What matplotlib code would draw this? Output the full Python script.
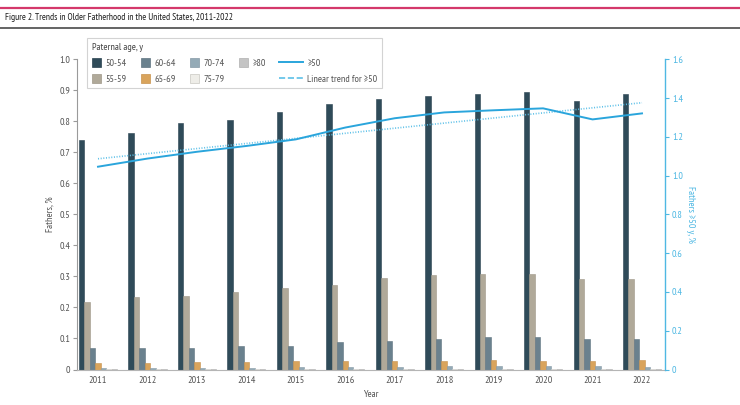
import matplotlib
matplotlib.use("Agg")
import matplotlib.pyplot as plt
import numpy as np
from matplotlib import font_manager
from matplotlib.patches import Patch, Rectangle
from matplotlib.lines import Line2D
from matplotlib.legend_handler import HandlerBase, HandlerPatch

# ---------------- data ----------------
years = [2011, 2012, 2013, 2014, 2015, 2016, 2017, 2018, 2019, 2020, 2021, 2022]
age_groups = ["50-54", "55-59", "60-64", "65-69", "70-74", "75-79", "\u226580"]
v50_54 = [0.740, 0.763, 0.794, 0.804, 0.831, 0.855, 0.871, 0.882, 0.889, 0.894, 0.866, 0.887]
v55_59 = [0.218, 0.233, 0.238, 0.251, 0.262, 0.274, 0.295, 0.305, 0.307, 0.308, 0.292, 0.292]
v60_64 = [0.068, 0.068, 0.070, 0.075, 0.077, 0.088, 0.091, 0.099, 0.104, 0.104, 0.097, 0.099]
v65_69 = [0.020, 0.021, 0.024, 0.024, 0.026, 0.027, 0.027, 0.029, 0.031, 0.029, 0.029, 0.032]
v70_74 = [0.005, 0.005, 0.006, 0.006, 0.007, 0.008, 0.009, 0.011, 0.011, 0.011, 0.010, 0.009]
v75_79 = [0.002, 0.002, 0.002, 0.002, 0.002, 0.002, 0.003, 0.003, 0.003, 0.003, 0.003, 0.003]
v80_up = [0.001, 0.001, 0.001, 0.001, 0.001, 0.001, 0.001, 0.001, 0.001, 0.001, 0.001, 0.001]
ge50 = [1.046, 1.088, 1.123, 1.153, 1.187, 1.248, 1.296, 1.326, 1.337, 1.347, 1.290, 1.321]
trend_years = [2011, 2022]
trend_vals = [1.087, 1.376]
left_ticks = [0, 0.1, 0.2, 0.3, 0.4, 0.5, 0.6, 0.7, 0.8, 0.9, 1.0]
right_ticks = [0, 0.2, 0.4, 0.6, 0.8, 1.0, 1.2, 1.4, 1.6]

series = [v50_54, v55_59, v60_64, v65_69, v70_74, v75_79, v80_up]
colors = ["#2f4b59", "#b0a999", "#6a818e", "#d9a45c", "#94aab6", "#eeede8", "#c4c4c4"]
edges = ["#2a4250", "#9e9788", "#5f7480", "#c8924d", "#8599a5", "#c9c8c2", "#b0b0b0"]
BLUE = "#2aa5dc"
BLUE_AX = "#4fb8e3"
TREND = "#5cc0e8"
GRAY_TXT = "#555555"

# ---------------- fonts ----------------
names = {f.name for f in font_manager.fontManager.ttflist}
NARROW = "PT Sans Narrow" if "PT Sans Narrow" in names else "Liberation Sans"
plt.rcParams["font.family"] = [NARROW, "DejaVu Sans"]
FS = 7.3

fig = plt.figure(figsize=(7.4, 4.05), dpi=100)
W, H = 740, 405

# header rules and title
fig.add_artist(Line2D([0, 1], [1 - 8 / H, 1 - 8 / H], transform=fig.transFigure,
                      color="#d4386b", lw=1.6))
fig.add_artist(Line2D([0, 1], [1 - 28 / H, 1 - 28 / H], transform=fig.transFigure,
                      color="#4a4a4a", lw=1.2))
fig.text(5 / W, 1 - 18 / H, "Figure 2. Trends in Older Fatherhood in the United States, 2011-2022",
         fontsize=6.8, color="#1e1e1e", ha="left", va="center")

# axes
x0, x1, ytop, ybot = 77, 665, 59.3, 369.5
ax = fig.add_axes([x0 / W, 1 - ybot / H, (x1 - x0) / W, (ybot - ytop) / H])
ax2 = ax.twinx()

x = np.array(years, dtype=float)
bw = 0.11
for i, (vals, c, ec) in enumerate(zip(series, colors, edges)):
    ax.bar(x + (i - 3) * bw, vals, width=bw, color=c, edgecolor=ec, linewidth=0.4,
           label=age_groups[i], zorder=2)

TREND_LS = (0, (0.6, 1.0))
ax2.plot(trend_years, trend_vals, color=TREND, lw=1.2, ls=TREND_LS, zorder=3)
ax2.plot(years, ge50, color=BLUE, lw=1.4, zorder=4)

ax.set_xlim(2010.575, 2022.465)
ax.set_ylim(0, 1.0)
ax2.set_ylim(0, 1.6)

ax.set_xticks(years)
ax.set_xticklabels([str(y) for y in years])
ax.tick_params(axis="x", length=0, pad=5, labelsize=FS, labelcolor=GRAY_TXT)
ax.set_yticks(left_ticks)
ax.set_yticklabels(["0" if v == 0 else f"{v:.1f}" for v in left_ticks])
ax.tick_params(axis="y", length=3, width=0.8, color="#9a9a9a", pad=2, labelsize=FS,
               labelcolor=GRAY_TXT)
ax2.set_yticks(right_ticks)
ax2.set_yticklabels(["0" if v == 0 else f"{v:.1f}" for v in right_ticks])
ax2.tick_params(axis="y", length=3, width=0.8, color=BLUE_AX, pad=2, labelsize=FS,
                labelcolor=BLUE_AX)

for s in ["top", "right"]:
    ax.spines[s].set_visible(False)
ax.spines["left"].set_color("#9a9a9a")
ax.spines["left"].set_linewidth(0.8)
ax.spines["bottom"].set_color("#b5b5b5")
ax.spines["bottom"].set_linewidth(0.8)
for s in ["top", "left", "bottom"]:
    ax2.spines[s].set_visible(False)
ax2.spines["right"].set_color(BLUE_AX)
ax2.spines["right"].set_linewidth(1.0)

ax.set_xlabel("Year", fontsize=FS, color=GRAY_TXT, labelpad=3)
ax.set_ylabel("Fathers, %", fontsize=FS, color=GRAY_TXT, labelpad=3)
ax2.set_ylabel("Fathers \u226550 y, %", fontsize=FS, color=BLUE_AX, rotation=270,
               labelpad=8.5)


# ---------------- legend ----------------
class LongLine(HandlerBase):
    def __init__(self, length_pt, **kw):
        super().__init__(**kw)
        self.length_pt = length_pt

    def create_artists(self, legend, orig_handle, xdescent, ydescent, width, height,
                       fontsize, trans):
        xe = -xdescent + width
        xs = xe - self.length_pt
        y = -ydescent + height / 2
        ln = Line2D([xs, xe], [y, y], color=orig_handle.get_color(),
                    lw=orig_handle.get_linewidth(), ls=orig_handle.get_linestyle())
        ln.set_transform(trans)
        return [ln]


def square(legend, orig_handle, xdescent, ydescent, width, height, fontsize):
    return Rectangle((-xdescent, -ydescent), width, height)


patches = [Patch(facecolor=c, edgecolor=ec, linewidth=0.5) for c, ec in zip(colors, edges)]
blank = Patch(facecolor="none", edgecolor="none")
l_ge50 = Line2D([], [], color=BLUE, lw=1.4)
l_trend = Line2D([], [], color=TREND, lw=1.2, ls=TREND_LS)

handles = [patches[0], patches[1], patches[2], patches[3], patches[4], patches[5],
           patches[6], blank, l_ge50, l_trend]
labels = [age_groups[0], age_groups[1], age_groups[2], age_groups[3], age_groups[4],
          age_groups[5], age_groups[6], "000000", "\u226550", "Linear trend for \u226550"]

hmap = {l_ge50: LongLine(17.5), l_trend: LongLine(17.5)}
for p in patches + [blank]:
    hmap[p] = HandlerPatch(patch_func=square)

leg = fig.legend(handles, labels, ncol=5, loc="upper left",
                 bbox_to_anchor=(87 / W, 1 - 38 / H), fontsize=FS,
                 title="Paternal age, y", title_fontsize=FS, alignment="left",
                 handlelength=0.95, handleheight=0.95, handletextpad=0.4,
                 columnspacing=1.4, labelspacing=0.62, borderpad=0.45,
                 frameon=True, fancybox=False, edgecolor="#c8c8c8",
                 handler_map=hmap, borderaxespad=0)
leg.get_frame().set_linewidth(0.8)
leg.get_title().set_color("#444444")
for t in leg.get_texts():
    t.set_color(GRAY_TXT)
leg.get_texts()[7].set_alpha(0)

fig.savefig("out.png", dpi=100, facecolor="white")
